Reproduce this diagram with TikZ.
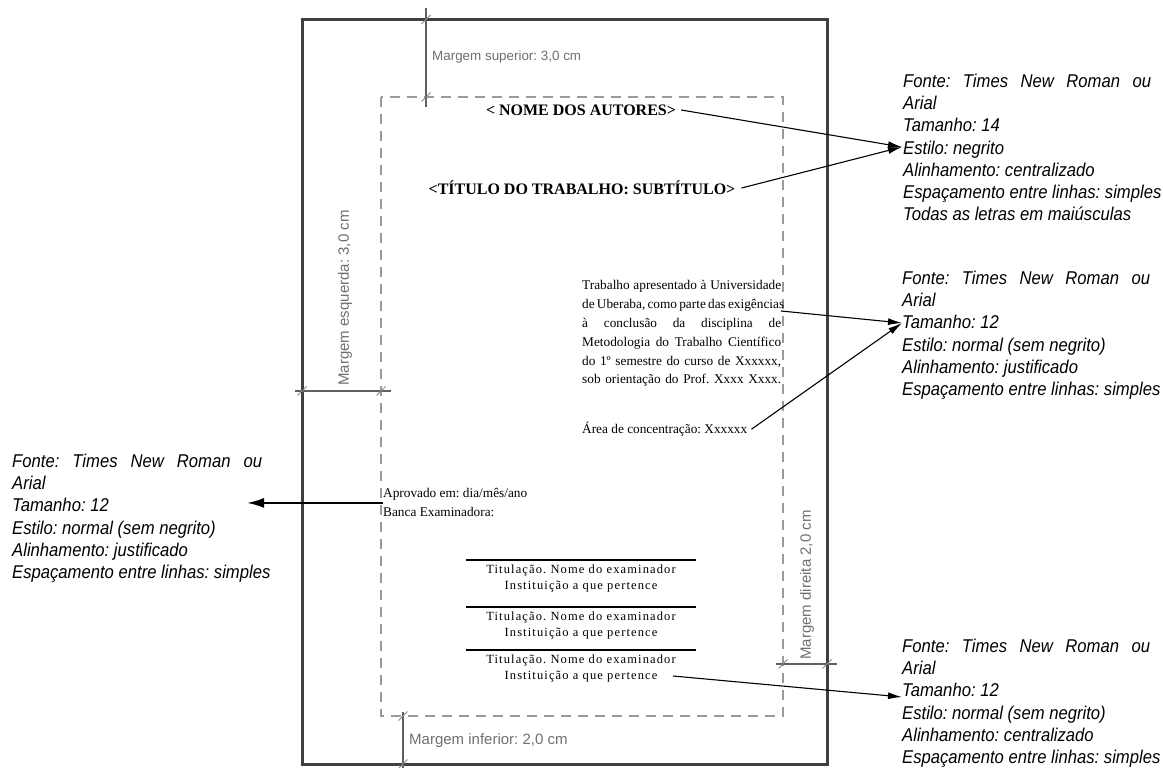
\documentclass[tikz,border=0pt]{standalone}
\usepackage{fontspec}
\setmainfont{Liberation Serif}
\newfontfamily\annfont[FakeStretch=0.9]{Liberation Sans}
\newfontfamily\dimfont{Liberation Sans}
\newfontfamily\spfont[LetterSpace=9]{Liberation Serif}
\usetikzlibrary{arrows.meta}
\frenchspacing

\definecolor{pagecol}{HTML}{404040}
\definecolor{dashcol}{HTML}{9A9A9A}
\definecolor{dimcol}{HTML}{606060}
\definecolor{tickcol}{HTML}{8A8A8A}
\definecolor{dimtext}{HTML}{707070}

\tikzset{
 ann/.style={anchor=north west, inner sep=0pt, align=left, font=\annfont\itshape\fontsize{18.5}{22.3}\selectfont},
 dimlabel/.style={inner sep=0pt, text=dimtext, font=\dimfont\fontsize{15}{18}\selectfont},
 dimline/.style={draw=dimcol, line width=2pt},
 tickmark/.style={draw=tickcol, line width=0.8pt},
 body/.style={inner sep=0pt, font=\fontsize{13.3}{18.8}\selectfont},
 titlefont/.style={inner sep=0pt, font=\bfseries\fontsize{16}{19}\selectfont},
 exam/.style={inner sep=0pt, anchor=north, align=center, font=\spfont\fontsize{12.5}{16}\selectfont},
 arr/.style={draw=black, line width=1.1pt, -{Latex[length=14pt,width=7pt]}},
 bigarr/.style={draw=black, line width=2pt, -{Latex[length=17pt,width=10pt]}},
 signrule/.style={draw=black, line width=1.6pt},
}
\newcommand\dimtick[2]{\draw[tickmark] (#1-4.5,#2+4.5) -- (#1+4.5,#2-4.5);}

\begin{document}
\begin{tikzpicture}[x=1pt,y=-1pt]
\useasboundingbox (0,0) rectangle (1163,768);
\fill[white] (0,0) rectangle (1163,768);
% page and text area
\draw[pagecol, line width=3pt] (302,19.5) rectangle (827,764);
\draw[dashcol, line width=1.5pt, dash pattern=on 10pt off 7pt] (381,97) rectangle (783,716);
% margin dimensions
\draw[dimline] (426,8) -- (426,107);
\dimtick{426}{19.5}\dimtick{426}{97}
\node[dimlabel, anchor=west, font=\dimfont\fontsize{13.4}{16}\selectfont] (msup) at (432,57) {Margem superior: 3,0 cm};
\draw[dimline] (295,391) -- (391,391);
\dimtick{302}{391}\dimtick{381}{391}
\node[dimlabel, rotate=90] (mesq) at (345,298) {Margem esquerda: 3,0 cm};
\draw[dimline] (776,664) -- (837,664);
\dimtick{783}{664}\dimtick{827}{664}
\node[dimlabel, rotate=90] (mdir) at (807,585) {Margem direita 2,0 cm};
\draw[dimline] (403,712) -- (403,768);
\dimtick{403}{716}\dimtick{403}{764}
\node[dimlabel, anchor=west] (minf) at (409,741) {Margem inferior: 2,0 cm};

% page contents
\node[titlefont] (autores) at (581,110) {<~NOME DOS AUTORES>};
\node[titlefont] (titulo) at (582,188) {<TÍTULO DO TRABALHO: SUBTÍTULO>};
\node[body, anchor=north west, align=left] (trab) at (582,280.5) {%
\makebox[199pt][s]{Trabalho apresentado à Universidade}\\
\makebox[199pt][s]{de Uberaba, como parte das exigências}\\
\makebox[199pt][s]{à conclusão da disciplina de}\\
\makebox[199pt][s]{Metodologia do Trabalho Científico}\\
\makebox[199pt][s]{do 1º semestre do curso de Xxxxxx,}\\
\makebox[199pt][s]{sob orientação do Prof. Xxxx Xxxx.}};
\node[body, anchor=base west] (area) at (582,433.5) {Área de concentração: Xxxxxx};
\node[body, anchor=north west, align=left, font=\fontsize{13.3}{19}\selectfont] (aprov) at (383,488.5) {Aprovado em: dia/mês/ano\\Banca Examinadora:};

\draw[signrule] (466,560) -- (696,560);
\node[exam] (ex1) at (581,564.5) {Titulação. Nome do examinador\\Instituição a que pertence};
\draw[signrule] (466,607) -- (696,607);
\node[exam] (ex2) at (581,611.5) {Titulação. Nome do examinador\\Instituição a que pertence};
\draw[signrule] (466,650) -- (696,650);
\node[exam] (ex3) at (581,654.5) {Titulação. Nome do examinador\\Instituição a que pertence};

% annotations
\node[ann] (ann1) at (903,73.5) {\makebox[248pt][s]{Fonte: Times New Roman ou}\\Arial\\Tamanho: 14\\Estilo: negrito\\Alinhamento: centralizado\\Espaçamento entre linhas: simples\\Todas as letras em maiúsculas};
\node[ann] (ann2) at (902,270.5) {\makebox[248pt][s]{Fonte: Times New Roman ou}\\Arial\\Tamanho: 12\\Estilo: normal (sem negrito)\\Alinhamento: justificado\\Espaçamento entre linhas: simples};
\node[ann] (ann3) at (902,638.5) {\makebox[248pt][s]{Fonte: Times New Roman ou}\\Arial\\Tamanho: 12\\Estilo: normal (sem negrito)\\Alinhamento: centralizado\\Espaçamento entre linhas: simples};
\node[ann] (ann4) at (12,453.5) {\makebox[250pt][s]{Fonte: Times New Roman ou}\\Arial\\Tamanho: 12\\Estilo: normal (sem negrito)\\Alinhamento: justificado\\Espaçamento entre linhas: simples};

% connectors
\coordinate (tip1) at (902,147);
\draw[arr] ([xshift=5pt]autores.east) -- (tip1);
\draw[arr] ([xshift=6pt]titulo.east) -- (tip1);
\coordinate (exig) at (781,311);
\coordinate (tip2) at (902,323);
\draw[arr] (exig) -- (tip2);
\draw[arr] ([xshift=4pt]area.east) -- (tip2);
\coordinate (inst3) at (673,676);
\coordinate (tip3) at (902,697);
\draw[arr] (inst3) -- (tip3);
\coordinate (tip4) at (247,500);
\draw[bigarr] (aprov.west) -- (aprov.west -| tip4);
\end{tikzpicture}
\end{document}
